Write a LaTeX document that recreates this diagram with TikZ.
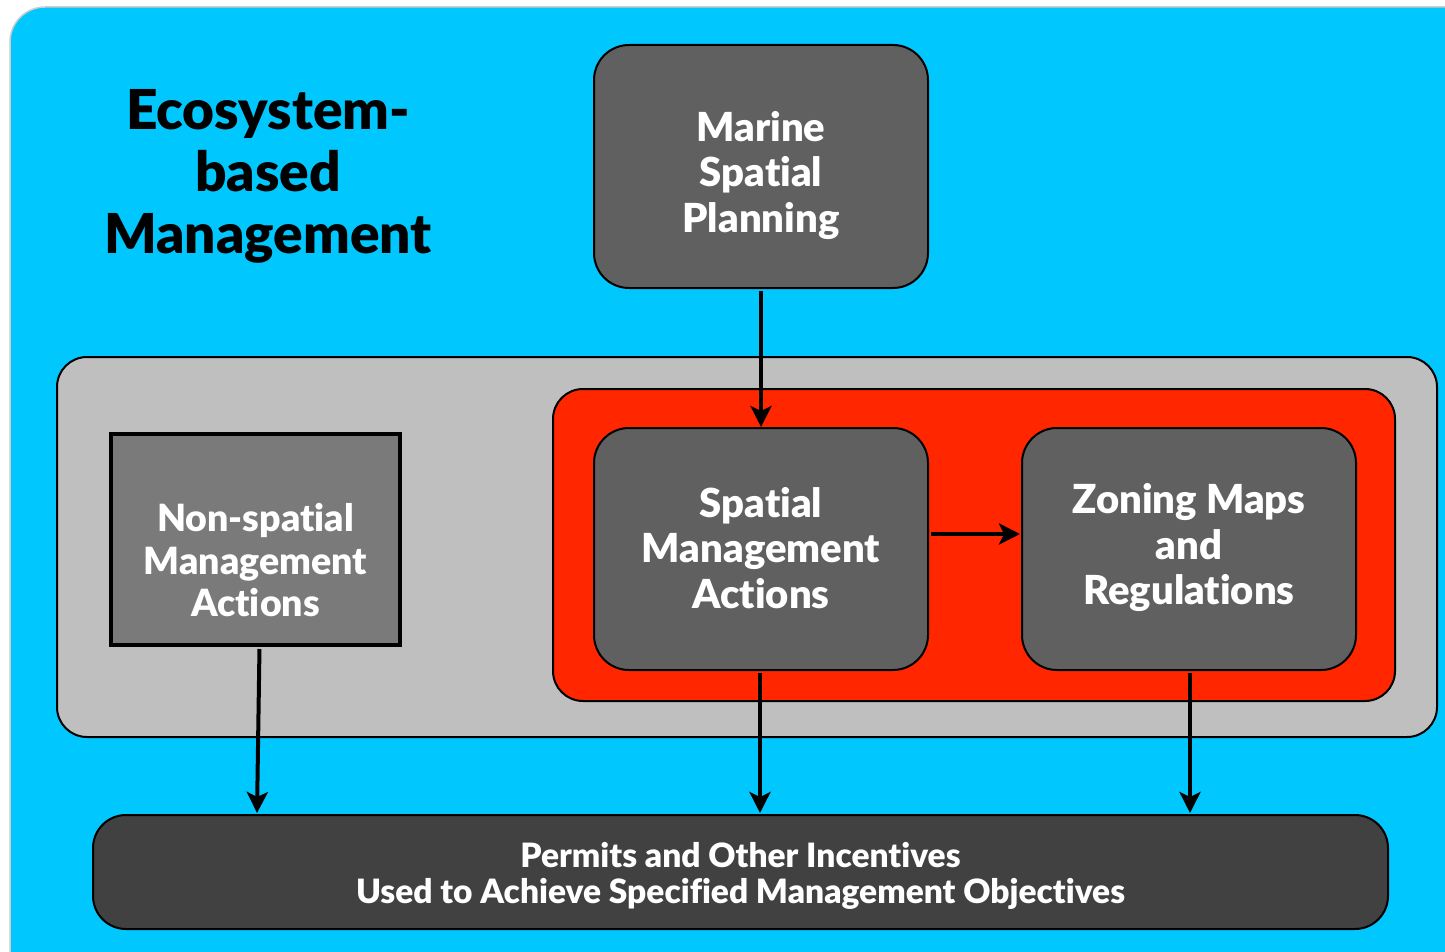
\documentclass[tikz,border=0pt]{standalone}
\usepackage{fontspec}
\setmainfont{Lato}[BoldFont={Lato Black}, Ligatures=NoCommon]
\usetikzlibrary{arrows.meta,calc}
\definecolor{skyblue}{RGB}{0,200,255}
\definecolor{panelgray}{RGB}{191,191,191}
\definecolor{hotred}{RGB}{255,38,0}
\definecolor{boxgray}{RGB}{96,96,96}
\definecolor{nsgray}{RGB}{122,122,122}
\definecolor{darkbar}{RGB}{65,65,65}
\definecolor{rimgray}{RGB}{205,205,205}
\tikzset{
  boxtext/.style={font=\bfseries\fontsize{40}{45.5}\selectfont, text=white, align=center, inner sep=0pt},
  rbox/.style={draw=black, line width=2pt, fill=boxgray, rounded corners=35pt,
    minimum width=334pt, minimum height=242pt, inner sep=0pt},
  arr/.style={draw=black, line width=4pt, -{Stealth[length=21pt,width=21pt,inset=5pt]}},
}
\begin{document}
\begin{tikzpicture}[x=1pt,y=-1pt]
\useasboundingbox (0,0) rectangle (1445,952);
\fill[white] (0,0) rectangle (1445,952);
% outer blue area
\draw[fill=skyblue, draw=rimgray, line width=1.5pt, rounded corners=35pt] (10,7) rectangle (1490,1000);
% title
\node[font=\bfseries\fontsize{55}{62}\selectfont, align=center, text=black] (title) at (268,176) {Ecosystem-\\based\\Management};
% gray panel
\draw[fill=panelgray, draw=black, line width=2pt, rounded corners=30pt] (57,357) rectangle (1437,737);
% red panel
\draw[fill=hotred, draw=black, line width=2pt, rounded corners=30pt] (553,389) rectangle (1395,701);
% boxes
\node[rbox, minimum height=243pt] (msp) at (761,166.5) {};
\node[boxtext] (msptext) at ([yshift=-9pt]msp.center) {Marine\\Spatial\\Planning};
\node[rbox] (sma) at (761,549) {};
\node[boxtext] (smatext) at ([yshift=1pt]sma.center) {Spatial\\Management\\Actions};
\node[rbox] (zmr) at (1189,549) {};
\node[boxtext] (zmrtext) at ([yshift=1pt]zmr.center) {Zoning Maps\\and\\Regulations};
\node[draw=black, line width=4pt, fill=nsgray, minimum width=289pt, minimum height=211pt,
  inner sep=0pt] (nsa) at (255.5,539.5) {};
\node[boxtext, font=\bfseries\fontsize{37.5}{42.5}\selectfont] (nsatext) at ([yshift=-21pt]nsa.center) {Non-spatial\\Management\\Actions};
\node[draw=black, line width=2pt, fill=darkbar, rounded corners=33pt, minimum width=1295pt,
  minimum height=114pt, inner sep=0pt] (pmt) at (740.5,872) {};
\node[boxtext, font=\bfseries\fontsize{33.5}{36.5}\selectfont] (pmttext) at ([yshift=-4pt]pmt.center)
  {Permits and Other Incentives\\Used to Achieve Specified Management Objectives};
% connectors
\draw[arr, shorten <=2pt] (msp.south) -- (sma.north);
\draw[arr, shorten <=2pt, shorten >=1pt] ([yshift=15pt]sma.east) -- ([yshift=15pt]zmr.west);
\draw[arr, shorten <=2pt, shorten >=1pt] ([xshift=4pt]nsa.south) -- ([xshift=1.5pt]nsa.south |- pmt.north);
\draw[arr, shorten <=2pt, shorten >=1pt] ([xshift=-1pt]sma.south) -- ([xshift=-1pt]sma.south |- pmt.north);
\draw[arr, shorten <=2pt, shorten >=1pt] ([xshift=1pt]zmr.south) -- ([xshift=1pt]zmr.south |- pmt.north);
\end{tikzpicture}
\end{document}
